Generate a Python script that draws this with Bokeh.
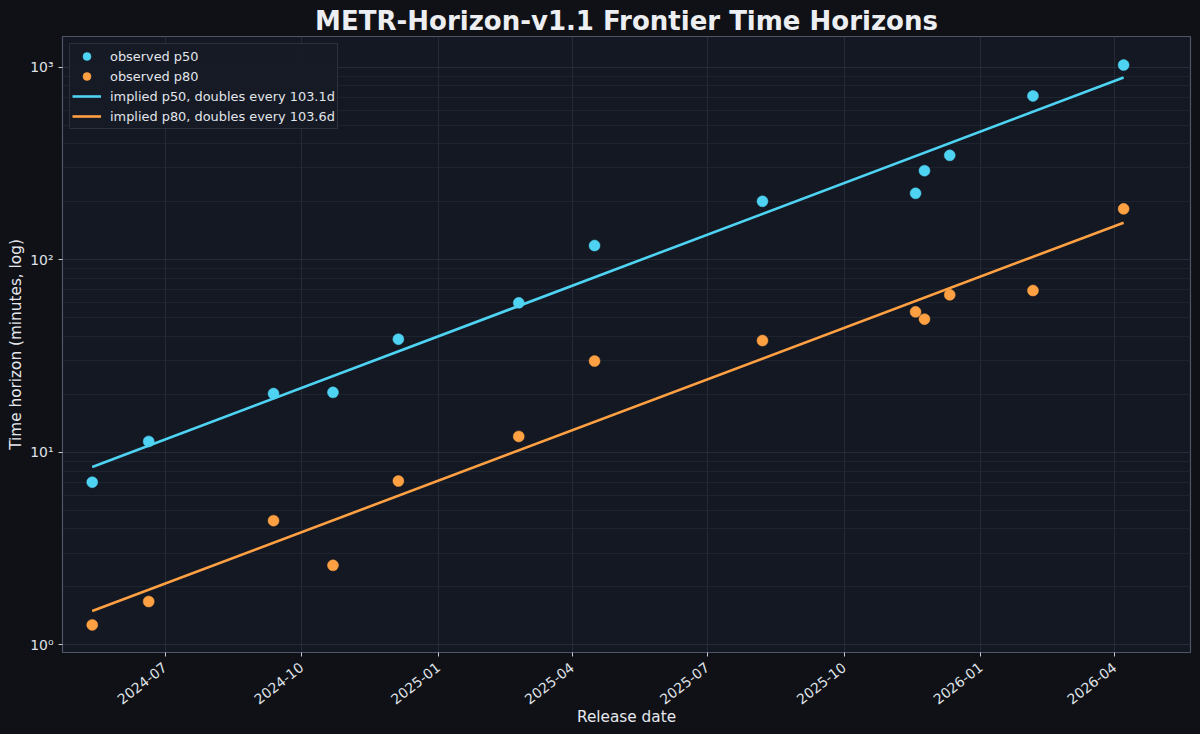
import pandas as pd
from bokeh.plotting import figure
from bokeh.models import (Range1d, FixedTicker, CustomJSTickFormatter,
                          MonthsTicker, DatetimeTickFormatter, Legend, LegendItem, ColumnDataSource)
from bokeh.embed import file_html
from bokeh.resources import INLINE

# ---- data ----
release_dates = ["2024-05-13", "2024-06-20", "2024-09-12", "2024-10-22", "2024-12-05",
                 "2025-02-24", "2025-04-16", "2025-08-07", "2025-11-18", "2025-11-24",
                 "2025-12-11", "2026-02-05", "2026-04-07"]
p50_minutes = [7.0, 11.4, 20.2, 20.5, 38.7, 59.8, 118.7, 201.4, 221.6, 290.6, 349.0, 710.0, 1028.0]
p80_minutes = [1.27, 1.68, 4.42, 2.59, 7.10, 12.1, 29.8, 38.1, 53.7, 49.2, 65.8, 69.3, 184.0]

fit_dates = ["2024-05-13", "2026-04-07"]
p50_fit = [8.39, 886.0]
p80_fit = [1.50, 156.0]

p50_label = "implied p50, doubles every 103.1d"
p80_label = "implied p80, doubles every 103.6d"

x_tick_months = [0, 3, 6, 9]   # Jan, Apr, Jul, Oct (0-based in BokehJS)
y_major = [1, 10, 100, 1000]
y_minor = [m * d for d in (1, 10, 100, 1000) for m in range(2, 10)]

CYAN = "#4fd3f3"
ORANGE = "#ffa043"
FIG_BG = "#0f1116"
AX_BG = "#131823"
SPINE = "#4d5567"
TXT = "#dfe2e8"

pts = ColumnDataSource(dict(date=pd.to_datetime(release_dates), p50=p50_minutes, p80=p80_minutes))
fit = ColumnDataSource(dict(date=pd.to_datetime(fit_dates), p50=p50_fit, p80=p80_fit))

p = figure(width=1200, height=734, x_axis_type="datetime", y_axis_type="log",
           x_range=Range1d(pd.Timestamp("2024-04-23"), pd.Timestamp("2026-05-22")),
           y_range=Range1d(0.913, 1446),
           output_backend="svg", toolbar_location=None,
           min_border_left=62, min_border_right=10, min_border_top=36, min_border_bottom=82,
           background_fill_color=AX_BG, border_fill_color=FIG_BG)

p.title.text = "METR-Horizon-v1.1 Frontier Time Horizons"
p.title.text_font = "DejaVu Sans"
p.title.text_font_size = "26px"
p.title.text_font_style = "bold"
p.title.text_color = "#eceef2"
p.title.align = "center"
p.title.standoff = 2

p.outline_line_color = SPINE
p.outline_line_width = 1.2

# grid
p.xgrid.grid_line_color = "#2a303d"
p.ygrid.grid_line_color = "#2a303d"
p.ygrid.minor_grid_line_color = "#222835"
p.xgrid.grid_line_width = 0.8
p.ygrid.grid_line_width = 0.8
p.ygrid.minor_grid_line_width = 0.7

# x axis
xa = p.xaxis[0]
xa.ticker = MonthsTicker(months=x_tick_months)
xa.formatter = DatetimeTickFormatter(months="%Y-%m", days="%Y-%m", years="%Y-%m")
xa.major_label_orientation = 0.66
xa.axis_label = "Release date"

# y axis
ya = p.yaxis[0]
ya.ticker = FixedTicker(ticks=y_major, minor_ticks=y_minor)
ya.formatter = CustomJSTickFormatter(code="""
const sup = {"0":"\u2070","1":"\u00b9","2":"\u00b2","3":"\u00b3","4":"\u2074","5":"\u2075",
             "6":"\u2076","7":"\u2077","8":"\u2078","9":"\u2079","-":"\u207b"};
const e = Math.round(Math.log10(tick));
return "10" + String(e).split("").map(c => sup[c]).join("");
""")
ya.axis_label = "Time horizon (minutes, log)"

for ax in (xa, ya):
    ax.axis_line_color = SPINE
    ax.major_tick_line_color = "#c8ccd4"
    ax.minor_tick_line_color = None
    ax.major_tick_out = 4
    ax.major_tick_in = 0
    ax.major_label_text_font = "DejaVu Sans"
    ax.major_label_text_font_size = "13.9px"
    ax.major_label_text_color = TXT
    ax.axis_label_text_font = "DejaVu Sans"
    ax.axis_label_text_font_size = "15.3px"
    ax.axis_label_text_font_style = "normal"
    ax.axis_label_text_color = "#e6e8ee"
xa.major_label_standoff = 9
xa.axis_label_standoff = -4
ya.major_label_standoff = 5
ya.axis_label_standoff = 2

# fits (under points)
l50 = p.line("date", "p50", source=fit, line_color=CYAN, line_width=2.6)
l80 = p.line("date", "p80", source=fit, line_color=ORANGE, line_width=2.6)
s50 = p.scatter("date", "p50", source=pts, size=11, fill_color=CYAN, line_color=CYAN, line_width=0.5)
s80 = p.scatter("date", "p80", source=pts, size=11, fill_color=ORANGE, line_color=ORANGE, line_width=0.5)

legend = Legend(items=[LegendItem(label="observed p50", renderers=[s50]),
                       LegendItem(label="observed p80", renderers=[s80]),
                       LegendItem(label=p50_label, renderers=[l50]),
                       LegendItem(label=p80_label, renderers=[l80])],
                location="top_left", margin=7, padding=2, spacing=0,
                glyph_width=29, glyph_height=20, label_height=20, label_standoff=9,
                background_fill_color="#161b26", background_fill_alpha=0.92,
                border_line_color="#3e4557", border_line_width=1,
                label_text_font="DejaVu Sans", label_text_font_size="12.9px",
                label_text_color="#e2e5eb")
p.add_layout(legend, "center")

html = file_html(p, INLINE)
html = html.replace("<head>", "<head><style>html, body { background-color: %s; }</style>" % FIG_BG, 1)
open("out.html", "w").write(html)
